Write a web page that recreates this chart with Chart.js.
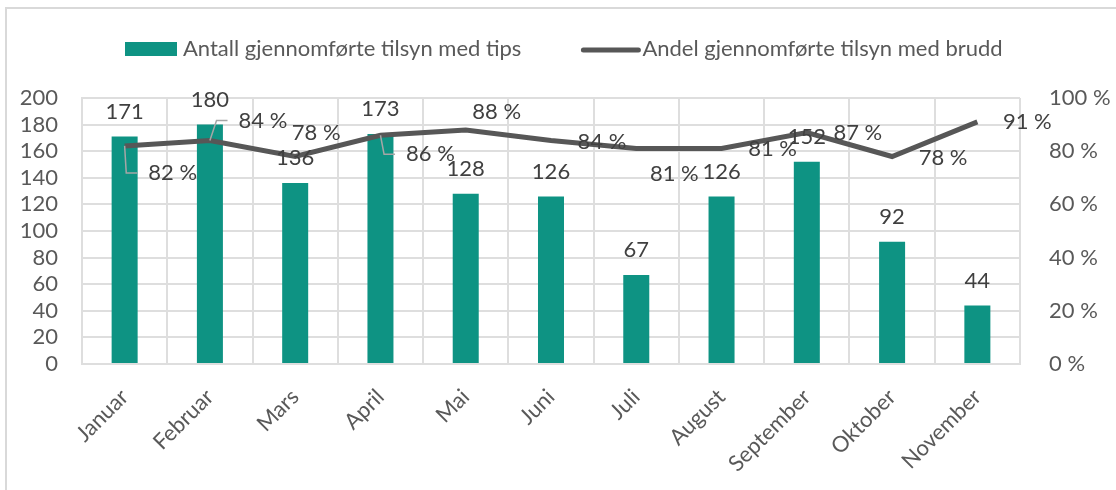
<!DOCTYPE html>
<html>
<head>
<meta charset="utf-8">
<script src="https://cdn.jsdelivr.net/npm/chart.js@4.4.0/dist/chart.umd.min.js"></script>
<style>
  html, body { margin: 0; padding: 0; background: #fff; }
  #wrap { position: relative; width: 1116px; height: 490px; }
  #frame { position: absolute; left: 5px; top: 7px; right: 0; bottom: 0;
           border-top: 2px solid #d9d9d9; border-left: 2px solid #d9d9d9; }
  canvas { position: absolute; left: 0; top: 0; }
</style>
</head>
<body>
<div id="wrap">
  <div id="frame"></div>
  <canvas id="myChart" width="1116" height="490"></canvas>
</div>
<script>
// Måneder (kategorier)
const maaneder = ['Januar', 'Februar', 'Mars', 'April', 'Mai', 'Juni', 'Juli', 'August', 'September', 'Oktober', 'November'];

// Antall gjennomførte tilsyn med tips (venstre akse)
const tilsynTips = [171, 180, 136, 173, 128, 126, 67, 126, 152, 92, 44];

// Andel gjennomførte tilsyn med brudd, i prosent (høyre akse)
const andelBrudd = [82, 84, 78, 86, 88, 84, 81, 81, 87, 78, 91];

// Serienavn
const serieTips = 'Antall gjennomførte tilsyn med tips';
const serieBrudd = 'Andel gjennomførte tilsyn med brudd';

// Plassering av prosentetikettene (forskyvning fra punktet, px) og ledelinjer
const etikettForskyvning = [[48, 27], [53, -20], [21, -24], [50, 19], [31, -18], [51, 1], [38, 25], [51, 0], [51, 0], [51, 1], [50, 0]];
const ledelinje = [true, true, false, true, false, false, false, false, false, false, false];

const FONT = 'Lato';
const STR = 22;
const teal = '#0e9383';
const graa = '#575757';
const tekst = '#595959';

// Verdietiketter og legende tegnes selv
const etiketter = {
  id: 'etiketter',
  afterDatasetsDraw(chart) {
    const ctx = chart.ctx;
    ctx.save();
    ctx.font = STR + 'px ' + FONT;
    ctx.fillStyle = '#404040';
    ctx.textAlign = 'center';
    ctx.textBaseline = 'middle';

    chart.getDatasetMeta(1).data.forEach((bar, i) => {
      ctx.fillText(String(tilsynTips[i]), bar.x, bar.y - 25);
    });

    chart.getDatasetMeta(0).data.forEach((pt, i) => {
      const txt = andelBrudd[i] + ' %';
      const lx = pt.x + etikettForskyvning[i][0];
      const ly = pt.y + etikettForskyvning[i][1];
      const w = ctx.measureText(txt).width;
      if (ledelinje[i]) {
        ctx.save();
        ctx.strokeStyle = '#a6a6a6';
        ctx.lineWidth = 1.5;
        ctx.beginPath();
        ctx.moveTo(pt.x, pt.y);
        ctx.lineTo(lx - w / 2 - 22, ly);
        ctx.lineTo(lx - w / 2 - 11, ly);
        ctx.stroke();
        ctx.restore();
      }
      ctx.fillText(txt, lx, ly);
    });
    ctx.restore();
  },
  afterDraw(chart) {
    // legende øverst
    const ctx = chart.ctx;
    ctx.save();
    ctx.font = STR + 'px ' + FONT;
    ctx.textBaseline = 'middle';
    const y = 49;
    let x = 125;
    ctx.fillStyle = teal;
    ctx.fillRect(x, y - 7, 52, 14);
    x += 58;
    ctx.fillStyle = tekst;
    ctx.fillText(serieTips, x, y);
    x += ctx.measureText(serieTips).width + 62;
    ctx.strokeStyle = graa;
    ctx.lineWidth = 5;
    ctx.lineCap = 'round';
    ctx.beginPath();
    ctx.moveTo(x, y + 1);
    ctx.lineTo(x + 55, y + 1);
    ctx.stroke();
    x += 59;
    ctx.fillText(serieBrudd, x, y);
    ctx.restore();
  }
};

const data = {
  labels: maaneder,
  datasets: [
    {
      type: 'line',
      label: serieBrudd,
      data: andelBrudd,
      yAxisID: 'y1',
      borderColor: graa,
      borderWidth: 5,
      pointRadius: 0,
      tension: 0,
      order: 0
    },
    {
      type: 'bar',
      label: serieTips,
      data: tilsynTips,
      yAxisID: 'y',
      backgroundColor: teal,
      barPercentage: 0.305,
      categoryPercentage: 1,
      order: 1
    }
  ]
};

const gridFarge = '#dedede';

const config = {
  data: data,
  options: {
    responsive: false,
    animation: false,
    layout: { padding: { top: 98, left: 0, right: 0, bottom: 0 } },
    plugins: {
      legend: { display: false },
      tooltip: { enabled: false }
    },
    scales: {
      x: {
        offset: true,
        grid: { color: gridFarge, lineWidth: 2, offset: true, drawTicks: false },
        border: { color: gridFarge, width: 2 },
        ticks: {
          color: tekst,
          font: { family: FONT, size: STR },
          minRotation: 45,
          maxRotation: 45,
          autoSkip: false,
          padding: 20
        },
        afterFit: s => { s.height = 126; }
      },
      y: {
        position: 'left',
        min: 0,
        max: 200,
        grid: { color: gridFarge, lineWidth: 2, drawTicks: false },
        border: { color: gridFarge, width: 2 },
        ticks: {
          stepSize: 20,
          autoSkip: false,
          color: tekst,
          font: { family: FONT, size: STR },
          padding: 24
        },
        afterFit: s => { s.width = 82; }
      },
      y1: {
        position: 'right',
        min: 0,
        max: 100,
        grid: { display: false, drawTicks: false },
        border: { display: false },
        ticks: {
          stepSize: 20,
          autoSkip: false,
          color: tekst,
          font: { family: FONT, size: STR },
          padding: 29,
          callback: v => v + ' %'
        },
        afterFit: s => { s.width = 96; }
      }
    }
  },
  plugins: [etiketter]
};

new Chart(document.getElementById('myChart'), config);
</script>
</body>
</html>
